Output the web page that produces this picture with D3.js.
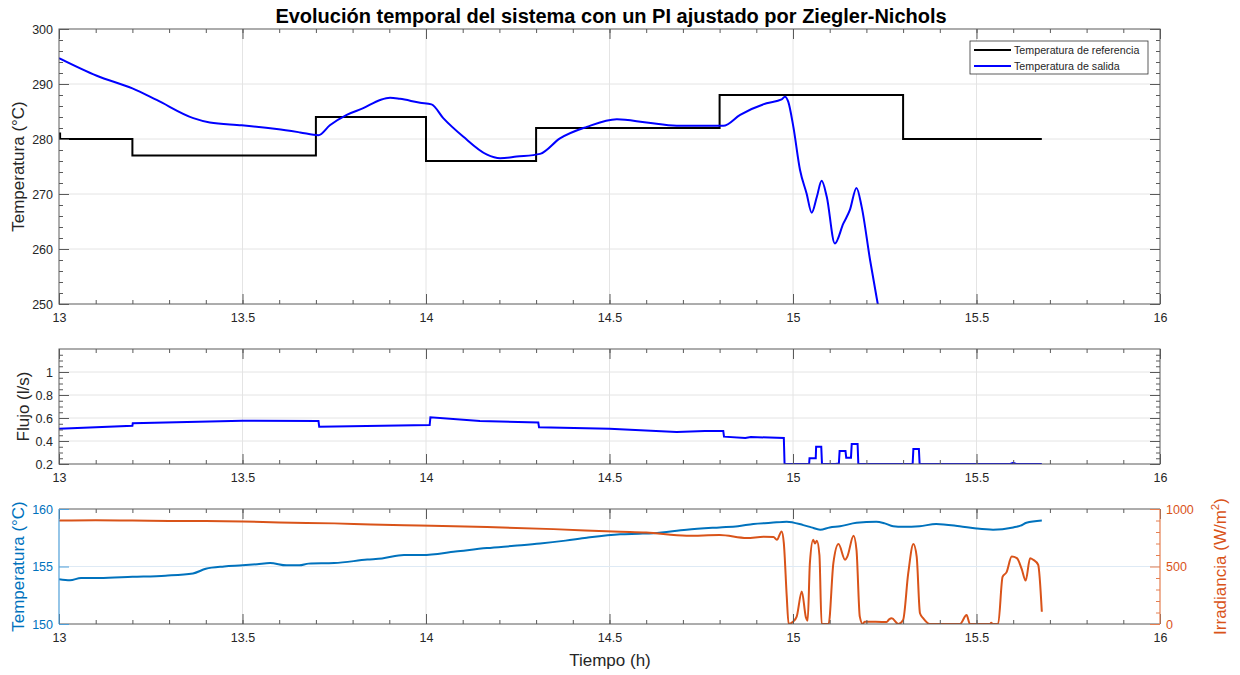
<!DOCTYPE html>
<html><head><meta charset="utf-8">
<script src="https://cdn.jsdelivr.net/npm/d3@7"></script>
<style>body{margin:0;background:#fff} text{font-family:"Liberation Sans",Arial,Helvetica,sans-serif}</style>
</head><body><svg id="c" width="1240" height="675"></svg>
<script>
// ---------- data ----------
const xMajorTicks = [13, 13.5, 14, 14.5, 15, 15.5, 16];
const xMinorTicks = d3.range(130, 161).map(v => v / 10);

const refTimes  = [13, 13.003, 13.2, 13.7, 14.0, 14.3, 14.8, 15.3, 15.678];
const refValues = [281, 280, 277, 284, 276, 282, 288, 280, 280];

const outTimes  = [13.0, 13.103, 13.2, 13.266, 13.366, 13.411, 13.498, 13.593, 13.657, 13.707, 13.738, 13.784, 13.829, 13.875, 13.902, 13.929, 13.984, 14.015, 14.047, 14.102, 14.165, 14.202, 14.247, 14.311, 14.365, 14.438, 14.520, 14.601, 14.683, 14.765, 14.810, 14.856, 14.928, 14.969, 14.978, 14.987, 15.001, 15.019, 15.037, 15.051, 15.065, 15.078, 15.092, 15.114, 15.137, 15.155, 15.173, 15.187, 15.210, 15.231, 15.25];
const outValues = [294.7, 291.5, 289.2, 287.1, 283.8, 283.0, 282.5, 281.8, 281.2, 280.7, 282.5, 284.4, 285.6, 287.1, 287.5, 287.3, 286.6, 286.3, 283.8, 280.4, 277.2, 276.5, 276.8, 277.3, 280.1, 282.2, 283.6, 283.0, 282.4, 282.4, 282.4, 284.4, 286.5, 287.2, 287.7, 286.8, 282.2, 274.4, 270.1, 266.6, 269.5, 272.4, 269.5, 261.0, 264.6, 267.1, 271.1, 267.7, 258.0, 250.0, 243.0];

const flowTimes  = [13.0, 13.2, 13.201, 13.5, 13.707, 13.709, 14.01, 14.012, 14.147, 14.306, 14.308, 14.5, 14.683, 14.76, 14.81, 14.812, 14.87, 14.885, 14.975, 14.977, 15.044, 15.045, 15.062, 15.063, 15.077, 15.079, 15.115, 15.125, 15.127, 15.143, 15.145, 15.158, 15.16, 15.176, 15.178, 15.326, 15.328, 15.343, 15.345, 15.592, 15.6, 15.608, 15.678];
const flowValues = [0.507, 0.533, 0.554, 0.577, 0.574, 0.524, 0.539, 0.606, 0.574, 0.56, 0.519, 0.507, 0.478, 0.487, 0.487, 0.438, 0.426, 0.435, 0.426, 0.2, 0.2, 0.25, 0.25, 0.35, 0.35, 0.2, 0.2, 0.205, 0.313, 0.313, 0.255, 0.255, 0.374, 0.374, 0.2, 0.2, 0.33, 0.33, 0.2, 0.2, 0.21, 0.2, 0.2];

const tempTimes  = [13.0, 13.03, 13.06, 13.11, 13.2, 13.29, 13.365, 13.40, 13.45, 13.5, 13.54, 13.575, 13.62, 13.655, 13.68, 13.75, 13.84, 13.88, 13.94, 13.99, 14.08, 14.166, 14.24, 14.311, 14.38, 14.438, 14.529, 14.58, 14.62, 14.71, 14.80, 14.85, 14.892, 14.94, 14.983, 15.028, 15.05, 15.074, 15.10, 15.128, 15.173, 15.227, 15.25, 15.273, 15.30, 15.345, 15.39, 15.454, 15.5, 15.545, 15.6, 15.62, 15.636, 15.678];
const tempValues = [153.9, 153.8, 154.0, 154.0, 154.1, 154.2, 154.4, 154.8, 155.0, 155.1, 155.2, 155.3, 155.1, 155.1, 155.25, 155.3, 155.6, 155.7, 156.0, 156.0, 156.3, 156.6, 156.8, 157.0, 157.25, 157.5, 157.8, 157.85, 157.9, 158.2, 158.4, 158.5, 158.7, 158.8, 158.9, 158.6, 158.4, 158.2, 158.4, 158.5, 158.8, 158.9, 158.75, 158.5, 158.45, 158.5, 158.7, 158.5, 158.3, 158.2, 158.4, 158.55, 158.8, 159.0];

const irrTimes  = [13.0, 13.1, 13.2, 13.3, 13.4, 13.5, 13.6, 13.75, 13.85, 13.98, 14.166, 14.348, 14.529, 14.6, 14.71, 14.80, 14.874, 14.92, 14.947, 14.956, 14.969, 14.975, 14.983, 14.988, 15.0, 15.01, 15.024, 15.035, 15.04, 15.046, 15.055, 15.06, 15.065, 15.072, 15.078, 15.097, 15.11, 15.124, 15.142, 15.148, 15.165, 15.173, 15.182, 15.19, 15.195, 15.255, 15.262, 15.269, 15.287, 15.30, 15.314, 15.328, 15.337, 15.346, 15.355, 15.373, 15.455, 15.473, 15.482, 15.537, 15.54, 15.545, 15.559, 15.571, 15.582, 15.596, 15.61, 15.623, 15.634, 15.646, 15.655, 15.668, 15.678];
const irrValues = [900, 902, 900, 896, 895, 892, 883, 875, 866, 857, 843, 825, 802, 795, 767, 773, 747, 758, 756, 732, 805, 703, 238, 0, 20, 64, 282, 60, 30, 529, 732, 700, 725, 600, 0, 0, 529, 695, 558, 586, 767, 645, 64, 0, 20, 17, 40, 49, 0, 35, 442, 695, 586, 93, 49, 0, 0, 78, 0, 0, 10, 0, 0, 410, 451, 586, 572, 480, 378, 572, 558, 515, 107];

const p1YTicks = [250, 260, 270, 280, 290, 300];
const p2YTicks = [0.2, 0.4, 0.6, 0.8, 1];
const p3LeftTicks = [150, 155, 160];
const p3RightTicks = [0, 500, 1000];

// ---------- layout ----------
const X0 = 59, X1 = 1160;
const P1 = {top: 29, bottom: 304}, P2 = {top: 349, bottom: 464}, P3 = {top: 509, bottom: 624};
const TICK = 10, MINOR = 4;
const FS = 12.5, LFS = 17;
const txtCol = "#262626", boxCol = "#5a5a5a", gridCol = "#e4e4e4";
const blue3 = "#0072BD", orange3 = "#D95319";

const svg = d3.select("#c");
svg.append("rect").attr("width", 1240).attr("height", 675).attr("fill", "#fff");

const x = d3.scaleLinear().domain([13, 16]).range([X0, X1]);

const y1 = d3.scaleLinear().domain([250, 300]).range([P1.bottom, P1.top]);
const y2 = d3.scaleLinear().domain([0.2, 1.2]).range([P2.bottom, P2.top]);
const y3L = d3.scaleLinear().domain([150, 160]).range([P3.bottom, P3.top]);
const y3R = d3.scaleLinear().domain([0, 1000]).range([P3.bottom, P3.top]);

function styleAxis(g, col) {
  g.select(".domain").remove();
  g.selectAll(".tick line").attr("stroke", col).attr("stroke-width", 1);
  g.selectAll(".tick text").attr("fill", col).attr("font-size", FS)
    .style("font-family", '"Liberation Sans",Arial,sans-serif');
}

function xStuff(P, gridc) {
  const g = svg.append("g");
  g.selectAll("line.vg").data(xMajorTicks.filter(t => t > 13 && t < 16)).join("line")
    .attr("x1", d => x(d)).attr("x2", d => x(d)).attr("y1", P.top).attr("y2", P.bottom)
    .attr("stroke", gridc).attr("stroke-width", 1);
  return g;
}

function xTicks(P) {
  const bm = svg.append("g").attr("transform", `translate(0,${P.bottom})`)
    .call(d3.axisBottom(x).tickValues(xMinorTicks).tickSizeInner(-MINOR).tickSizeOuter(0).tickFormat(""));
  styleAxis(bm, boxCol);
  const bM = svg.append("g").attr("transform", `translate(0,${P.bottom})`)
    .call(d3.axisBottom(x).tickValues(xMajorTicks).tickSizeInner(-TICK).tickSizeOuter(0).tickPadding(9).tickFormat(d3.format("")));
  styleAxis(bM, boxCol);
  bM.selectAll(".tick text").attr("fill", txtCol);
  const tm = svg.append("g").attr("transform", `translate(0,${P.top})`)
    .call(d3.axisTop(x).tickValues(xMinorTicks).tickSizeInner(-MINOR).tickSizeOuter(0).tickFormat(""));
  styleAxis(tm, boxCol);
  const tM = svg.append("g").attr("transform", `translate(0,${P.top})`)
    .call(d3.axisTop(x).tickValues(xMajorTicks).tickSizeInner(-TICK).tickSizeOuter(0).tickFormat(""));
  styleAxis(tM, boxCol);
}

function hGrid(P, ys, vals, col) {
  svg.append("g").selectAll("line").data(vals).join("line")
    .attr("x1", X0).attr("x2", X1).attr("y1", d => ys(d)).attr("y2", d => ys(d))
    .attr("stroke", col).attr("stroke-width", 1);
}

function yTicksSide(ys, major, minor, side, col, labels) {
  const xpos = side === "left" ? X0 : X1;
  const mk = side === "left" ? d3.axisLeft : d3.axisRight;
  if (minor) {
    const gm = svg.append("g").attr("transform", `translate(${xpos},0)`)
      .call(mk(ys).tickValues(minor).tickSizeInner(-MINOR).tickSizeOuter(0).tickFormat(""));
    styleAxis(gm, col);
  }
  const gM = svg.append("g").attr("transform", `translate(${xpos},0)`)
    .call(mk(ys).tickValues(major).tickSizeInner(-TICK).tickSizeOuter(0).tickPadding(6)
      .tickFormat(labels ? d3.format("") : ""));
  styleAxis(gM, col);
  return gM;
}

function clip(id, P) {
  svg.append("clipPath").attr("id", id).append("rect")
    .attr("x", X0).attr("y", P.top).attr("width", X1 - X0).attr("height", P.bottom - P.top);
}

// ---------- panel 1 ----------
xStuff(P1, gridCol);
hGrid(P1, y1, [260, 270, 280, 290], gridCol);
clip("c1", P1);
const g1 = svg.append("g").attr("clip-path", "url(#c1)");
g1.append("path")
  .attr("d", d3.line().x(d => x(d[0])).y(d => y1(d[1])).curve(d3.curveStepAfter)(refTimes.map((t, i) => [t, refValues[i]])))
  .attr("fill", "none").attr("stroke", "#000").attr("stroke-width", 2);
g1.append("path")
  .attr("d", d3.line().x(d => x(d[0])).y(d => y1(d[1])).curve(d3.curveMonotoneX)(outTimes.map((t, i) => [t, outValues[i]])))
  .attr("fill", "none").attr("stroke", "#0000FF").attr("stroke-width", 2);
svg.append("rect").attr("x", X0).attr("y", P1.top).attr("width", X1 - X0).attr("height", P1.bottom - P1.top)
  .attr("fill", "none").attr("stroke", boxCol).attr("stroke-width", 1);
xTicks(P1);
const p1Minor = d3.range(250, 301, 2).filter(v => v % 10 !== 0);
yTicksSide(y1, p1YTicks, p1Minor, "left", boxCol, true).selectAll(".tick text").attr("fill", txtCol);
yTicksSide(y1, p1YTicks, p1Minor, "right", boxCol, false);

// legend
const lg = svg.append("g");
lg.append("rect").attr("x", 970).attr("y", 41).attr("width", 178).attr("height", 33)
  .attr("fill", "#fff").attr("stroke", "#333").attr("stroke-width", 0.8);
const legItems = [["Temperatura de referencia", "#000"], ["Temperatura de salida", "#0000FF"]];
legItems.forEach((d, i) => {
  const yy = 50 + i * 16;
  lg.append("line").attr("x1", 974).attr("x2", 1011).attr("y1", yy).attr("y2", yy)
    .attr("stroke", d[1]).attr("stroke-width", 2);
  lg.append("text").attr("x", 1014).attr("y", yy).attr("dy", "0.35em").attr("font-size", 10.7)
    .attr("fill", txtCol).text(d[0]);
});

// ---------- panel 2 ----------
xStuff(P2, gridCol);
hGrid(P2, y2, [0.4, 0.6, 0.8, 1.0], gridCol);
clip("c2", P2);
svg.append("g").attr("clip-path", "url(#c2)").append("path")
  .attr("d", d3.line().x(d => x(d[0])).y(d => y2(d[1]))(flowTimes.map((t, i) => [t, flowValues[i]])))
  .attr("fill", "none").attr("stroke", "#0000FF").attr("stroke-width", 2);
svg.append("rect").attr("x", X0).attr("y", P2.top).attr("width", X1 - X0).attr("height", P2.bottom - P2.top)
  .attr("fill", "none").attr("stroke", boxCol).attr("stroke-width", 1);
xTicks(P2);
const p2Minor = d3.range(4, 24).map(v => v * 0.05).filter(v => Math.abs(v * 5 - Math.round(v * 5)) > 1e-6);
yTicksSide(y2, p2YTicks, p2Minor, "left", boxCol, true).selectAll(".tick text").attr("fill", txtCol);
yTicksSide(y2, p2YTicks, p2Minor, "right", boxCol, false);

// ---------- panel 3 ----------
xStuff(P3, gridCol);
hGrid(P3, y3L, [155], "#deeaf5");
clip("c3", P3);
const g3 = svg.append("g").attr("clip-path", "url(#c3)");
g3.append("path")
  .attr("d", d3.line().x(d => x(d[0])).y(d => y3L(d[1])).curve(d3.curveMonotoneX)(tempTimes.map((t, i) => [t, tempValues[i]])))
  .attr("fill", "none").attr("stroke", blue3).attr("stroke-width", 2);
g3.append("path")
  .attr("d", d3.line().x(d => x(d[0])).y(d => y3R(d[1])).curve(d3.curveMonotoneX)(irrTimes.map((t, i) => [t, irrValues[i]])))
  .attr("fill", "none").attr("stroke", orange3).attr("stroke-width", 2);
svg.append("line").attr("x1", X0).attr("x2", X1).attr("y1", P3.top).attr("y2", P3.top).attr("stroke", boxCol);
svg.append("line").attr("x1", X0).attr("x2", X1).attr("y1", P3.bottom).attr("y2", P3.bottom).attr("stroke", boxCol);
xTicks(P3);
svg.append("line").attr("x1", X0).attr("x2", X0).attr("y1", P3.top).attr("y2", P3.bottom).attr("stroke", "#4f9fd8").attr("stroke-width", 1.2);
svg.append("line").attr("x1", X1).attr("x2", X1).attr("y1", P3.top).attr("y2", P3.bottom).attr("stroke", "#e57e50").attr("stroke-width", 1.2);
const gl = yTicksSide(y3L, p3LeftTicks, null, "left", "#4f9fd8", true);
gl.selectAll(".tick text").attr("fill", blue3);
const p3RMinor = d3.range(100, 1000, 100).filter(v => v !== 500);
const gr = yTicksSide(y3R, p3RightTicks, p3RMinor, "right", "#e57e50", true);
gr.selectAll(".tick text").attr("fill", orange3);

// ---------- labels ----------
svg.append("text").attr("x", 611).attr("y", 23).attr("text-anchor", "middle")
  .attr("font-size", 20).attr("font-weight", "bold").attr("fill", "#000")
  .text("Evolución temporal del sistema con un PI ajustado por Ziegler-Nichols");

svg.append("text").attr("transform", `translate(24,${(P1.top + P1.bottom) / 2}) rotate(-90)`)
  .attr("text-anchor", "middle").attr("font-size", LFS).attr("fill", txtCol).text("Temperatura (°C)");
svg.append("text").attr("transform", `translate(29,${(P2.top + P2.bottom) / 2}) rotate(-90)`)
  .attr("text-anchor", "middle").attr("font-size", LFS).attr("fill", txtCol).text("Flujo (l/s)");
svg.append("text").attr("transform", `translate(24,${(P3.top + P3.bottom) / 2}) rotate(-90)`)
  .attr("text-anchor", "middle").attr("font-size", LFS).attr("fill", blue3).text("Temperatura (°C)");
const rl = svg.append("text").attr("transform", `translate(1226,${(P3.top + P3.bottom) / 2}) rotate(-90)`)
  .attr("text-anchor", "middle").attr("font-size", LFS).attr("fill", orange3);
rl.append("tspan").text("Irradiancia (W/m");
rl.append("tspan").attr("font-size", 11.5).attr("dy", -7).text("2");
rl.append("tspan").attr("dy", 7).text(")");

svg.append("text").attr("x", 610).attr("y", 666).attr("text-anchor", "middle")
  .attr("font-size", LFS).attr("fill", txtCol).text("Tiempo (h)");
</script></body></html>
